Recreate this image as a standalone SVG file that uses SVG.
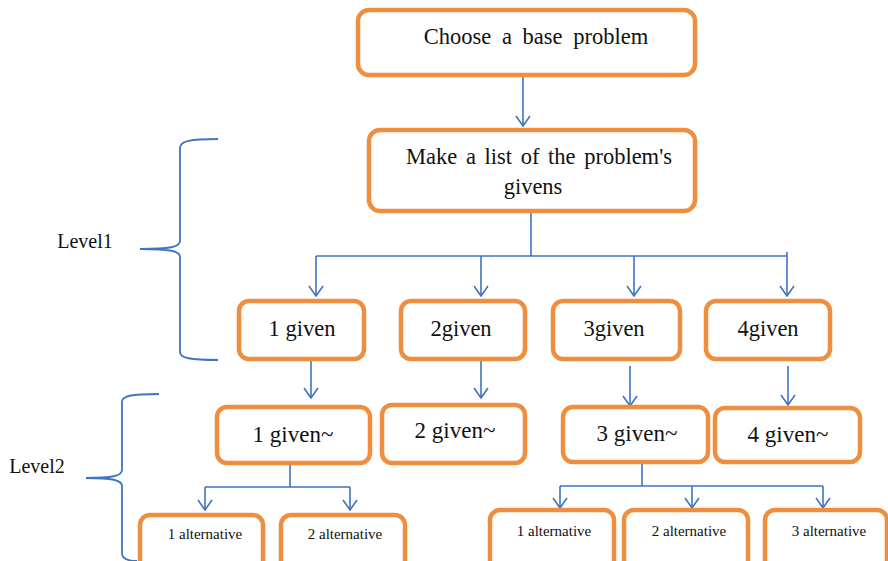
<svg xmlns="http://www.w3.org/2000/svg" width="888" height="561" viewBox="0 0 888 561">
<style>
.box{fill:#fff;stroke:#EE8E3E;stroke-width:4.5}
.t{font-family:"Liberation Serif","Times New Roman",serif;fill:#111;text-anchor:middle}
.big{font-size:22.5px}
.lv2{font-size:23px}
.mid{font-size:20px}
.sm{font-size:15px}
.c{fill:none;stroke:#3F74BF;stroke-width:1.6}
.br{fill:none;stroke:#3F74BF;stroke-width:1.8}
</style>
<defs>
<marker id="ah" viewBox="-1 -8 12 16" refX="10" refY="0" markerWidth="12" markerHeight="16" markerUnits="userSpaceOnUse" orient="auto">
<path d="M0,-7 L10,0 L0,7" fill="none" stroke="#3F74BF" stroke-width="1.6"/>
</marker>
</defs>
<rect width="888" height="561" fill="#fff"/>
<g id="connectors">
<path class="c" d="M523,76 V126" marker-end="url(#ah)"/>
<path class="c" d="M531,211 V256 M316,256 H787 M787,252 V256"/>
<path class="c" d="M316,256 V296" marker-end="url(#ah)"/>
<path class="c" d="M481,256 V296" marker-end="url(#ah)"/>
<path class="c" d="M634,256 V296" marker-end="url(#ah)"/>
<path class="c" d="M787,256 V296" marker-end="url(#ah)"/>
<path class="c" d="M311,361 V398" marker-end="url(#ah)"/>
<path class="c" d="M481,361 V398" marker-end="url(#ah)"/>
<path class="c" d="M630,366 V406" marker-end="url(#ah)"/>
<path class="c" d="M788,366 V405" marker-end="url(#ah)"/>
<path class="c" d="M290,463 V487 M205,487 H350"/>
<path class="c" d="M205,487 V510" marker-end="url(#ah)"/>
<path class="c" d="M350,487 V510" marker-end="url(#ah)"/>
<path class="c" d="M642,463 V486 M560,486 H823"/>
<path class="c" d="M560,486 V508" marker-end="url(#ah)"/>
<path class="c" d="M692,486 V508" marker-end="url(#ah)"/>
<path class="c" d="M823,486 V508" marker-end="url(#ah)"/>
</g>
<g id="brace1">
<path class="br" d="M218,139 C190,139 180,141 180,148 L180,241 C180,247 170,249 140,249 C170,249 180,251 180,257 L180,352 C180,358 190,360 218,360"/>
<text class="t mid" x="85" y="248">Level1</text>
</g>
<g id="brace2">
<path class="br" d="M159,394 C130,394 122,396 122,402 L122,470 C122,476 112,478 86,478 C112,478 122,480 122,486 L122,553 C122,559 128,561 137,561"/>
<text class="t mid" x="37" y="473">Level2</text>
</g>
<g id="n-base"><rect class="box" x="358" y="10" width="337" height="65" rx="11"/><text class="t big" x="536" y="44" word-spacing="5">Choose a base problem</text></g>
<g id="n-list"><rect class="box" x="369" y="130" width="326" height="81" rx="11"/><text class="t big" x="539" y="164" word-spacing="3">Make a list of the problem's</text><text class="t big" x="533" y="194">givens</text></g>
<g id="n-g1"><rect class="box" x="239" y="301" width="125" height="58" rx="10"/><text class="t big" x="302" y="336">1 given</text></g>
<g id="n-g2"><rect class="box" x="401" y="301" width="124" height="58" rx="10"/><text class="t big" x="461" y="336">2given</text></g>
<g id="n-g3"><rect class="box" x="553" y="301" width="127" height="58" rx="10"/><text class="t big" x="614" y="336">3given</text></g>
<g id="n-g4"><rect class="box" x="706" y="301" width="124" height="58" rx="10"/><text class="t big" x="768" y="336">4given</text></g>
<g id="n-h1"><rect class="box" x="217" y="407" width="153" height="56" rx="10"/><text class="t lv2" x="293" y="442">1 given~</text></g>
<g id="n-h2"><rect class="box" x="382" y="405" width="143" height="58" rx="10"/><text class="t lv2" x="455" y="438">2 given~</text></g>
<g id="n-h3"><rect class="box" x="563" y="407" width="145" height="55" rx="10"/><text class="t lv2" x="637" y="441">3 given~</text></g>
<g id="n-h4"><rect class="box" x="715" y="408" width="145" height="54" rx="10"/><text class="t lv2" x="788" y="442">4 given~</text></g>
<g id="n-a1"><rect class="box" x="140" y="515" width="123" height="70" rx="10"/><text class="t sm" x="205" y="539">1 alternative</text></g>
<g id="n-a2"><rect class="box" x="281" y="515" width="124" height="70" rx="10"/><text class="t sm" x="345" y="539">2 alternative</text></g>
<g id="n-b1"><rect class="box" x="490" y="510" width="124" height="70" rx="10"/><text class="t sm" x="554" y="536">1 alternative</text></g>
<g id="n-b2"><rect class="box" x="624" y="510" width="124" height="70" rx="10"/><text class="t sm" x="689" y="536">2 alternative</text></g>
<g id="n-b3"><rect class="box" x="765" y="510" width="122" height="70" rx="10"/><text class="t sm" x="829" y="536">3 alternative</text></g>
</svg>
